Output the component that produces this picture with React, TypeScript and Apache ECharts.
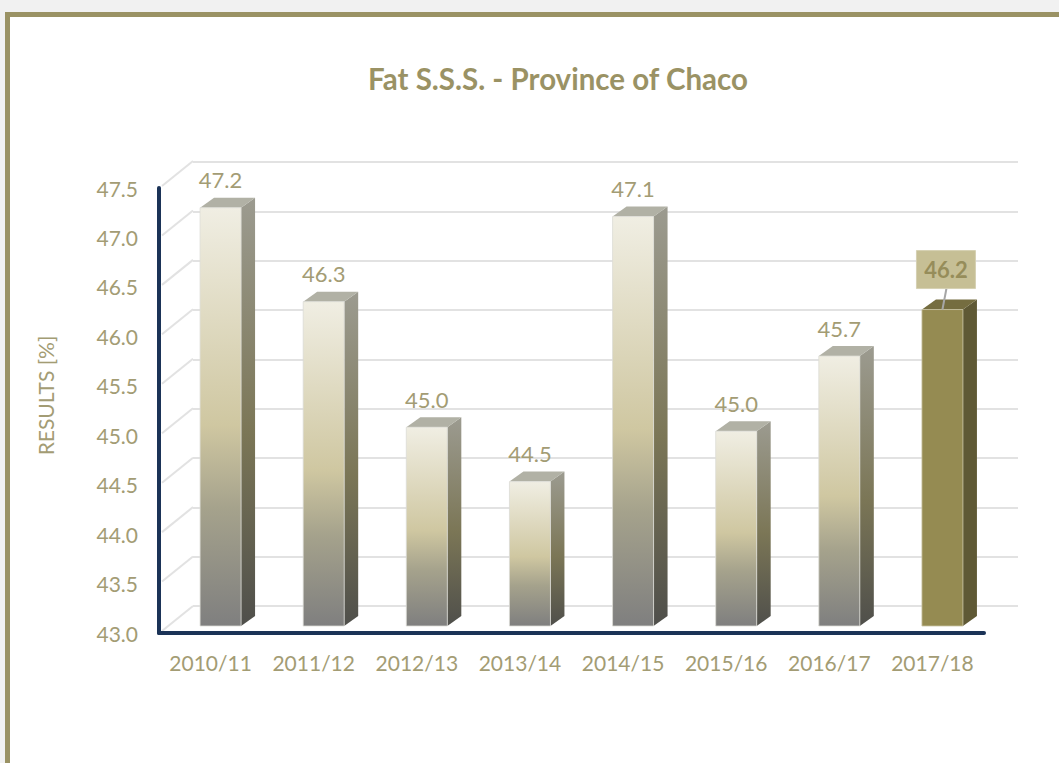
import React, { useEffect, useRef } from "react";
import * as echarts from "echarts";

const categories = ["2010/11", "2011/12", "2012/13", "2013/14", "2014/15", "2015/16", "2016/17", "2017/18"];
const values = [47.23, 46.28, 45.01, 44.46, 47.14, 44.97, 45.73, 46.2];
const tickValues = [43, 43.5, 44, 44.5, 45, 45.5, 46, 46.5, 47, 47.5];
const highlighted = "2017/18";
const titleText = "Fat S.S.S. - Province of Chaco";
const yName = "RESULTS [%]";

const OLIVE = "#9a9264";
const TEXT = "#a39c74";
const NAVY = "#1b3357";
const GRID = "#e2e2e2";
const FONT = "Lato, Carlito, sans-serif";

const grad = (stops: [number, string][]) =>
  new echarts.graphic.LinearGradient(0, 0, 0, 1, stops.map(([offset, color]) => ({ offset, color })));

export default function App() {
  const ref = useRef<HTMLDivElement>(null);
  useEffect(() => {
    const chart = echarts.init(ref.current!, undefined, { renderer: "svg" });
    const barW = 41;
    const depthX = 14;
    const depthY = 10;
    chart.setOption({
      animation: false,
      backgroundColor: "#f1f1f1",
      graphic: {
        elements: [
          { type: "rect", z: -10, shape: { x: 5, y: 12, width: 1054, height: 751 }, style: { fill: OLIVE } },
          { type: "rect", z: -9, shape: { x: 10, y: 17, width: 1049, height: 746 }, style: { fill: "#ffffff" } },
        ],
      },
      title: {
        text: titleText,
        left: 553,
        top: 58,
        textAlign: "center",
        textStyle: { color: OLIVE, fontFamily: FONT, fontWeight: "bold", fontSize: 29.5 },
      },
      grid: [
        { left: 159, right: 75, top: 188, bottom: 130 },
        { left: 193, right: 41, top: 162, bottom: 157 },
      ],
      xAxis: [
        {
          type: "category",
          gridIndex: 0,
          data: categories,
          axisLine: { lineStyle: { color: NAVY, width: 4 } },
          axisTick: { show: false },
          axisLabel: { color: TEXT, fontFamily: FONT, fontSize: 21, margin: 19, interval: 0 },
          z: 5,
        },
        { type: "category", gridIndex: 1, data: categories, show: false },
      ],
      yAxis: [
        {
          type: "value",
          gridIndex: 0,
          min: 43,
          max: 47.5,
          interval: 0.5,
          name: yName,
          nameLocation: "middle",
          nameGap: 103,
          nameTextStyle: { color: TEXT, fontFamily: FONT, fontSize: 21, padding: [0, 0, 0, 30] },
          axisLine: { show: true, lineStyle: { color: NAVY, width: 4 } },
          axisTick: { show: false },
          splitLine: { show: false },
          axisLabel: { color: TEXT, fontFamily: FONT, fontSize: 21, margin: 21, formatter: (v: number) => v.toFixed(1) },
          z: 5,
        },
        {
          type: "value",
          gridIndex: 1,
          min: 43,
          max: 47.5,
          interval: 0.5,
          axisLine: { show: false },
          axisTick: { show: false },
          axisLabel: { show: false },
          splitLine: { show: true, lineStyle: { color: GRID, width: 2 } },
        },
      ],
      series: [
        {
          type: "custom",
          xAxisIndex: 0,
          yAxisIndex: 0,
          data: tickValues.map((v) => [categories[0], v]),
          silent: true,
          clip: false,
          z: 1,
          renderItem: (params: any, api: any) => {
            const y = api.coord([categories[0], api.value(1)])[1];
            const x0 = params.coordSys.x;
            return {
              type: "line",
              shape: { x1: x0 + 3, y1: y - 2, x2: x0 + 34, y2: y - 27 },
              style: { stroke: GRID, lineWidth: 2 },
            };
          },
        },
        {
          type: "custom",
          xAxisIndex: 0,
          yAxisIndex: 0,
          data: values.map((v, i) => [categories[i], v]),
          clip: false,
          silent: true,
          z: 2,
          renderItem: (_: any, api: any) => {
            const i = api.value(0);
            const cat = categories[i];
            const v = api.value(1);
            const base = api.coord([cat, 43]);
            const top = api.coord([cat, v]);
            const x = base[0] + 10 - barW / 2;
            const y0 = base[1] - 7;
            const y1 = top[1] - 7;
            const isHi = cat === highlighted;
            const label = v.toFixed(1);
            const front = isHi
              ? "#958b52"
              : grad([
                  [0, "#f0eee3"],
                  [0.52, "#cfc7a1"],
                  [0.72, "#a5a28c"],
                  [1, "#7f7f7f"],
                ]);
            const side = isHi
              ? "#5f5935"
              : grad([
                  [0, "#9c9b90"],
                  [0.55, "#7b7656"],
                  [1, "#4f4f4b"],
                ]);
            const children: any[] = [
              {
                type: "polygon",
                shape: { points: [[x + barW, y1], [x + barW + depthX, y1 - depthY], [x + barW + depthX, y0 - depthY], [x + barW, y0]] },
                style: { fill: side },
              },
              {
                type: "polygon",
                shape: { points: [[x, y1], [x + depthX, y1 - depthY], [x + barW + depthX, y1 - depthY], [x + barW, y1]] },
                style: { fill: isHi ? "#756d40" : "#b1b1a5" },
              },
              {
                type: "rect",
                shape: { x, y: y1, width: barW, height: y0 - y1 },
                style: { fill: front, stroke: isHi ? "#c9c4a4" : "#dcdcd6", lineWidth: 0.8 },
              },
            ];
            if (isHi) {
              const cx = x + barW / 2;
              children.push(
                { type: "line", shape: { x1: cx, y1: y1, x2: cx + 4, y2: y1 - 21 }, style: { stroke: "#a6a6a6", lineWidth: 2 } },
                { type: "rect", shape: { x: cx - 26, y: y1 - 59, width: 59, height: 38 }, style: { fill: "#c6bf95", stroke: "#d5d0b2", lineWidth: 1 } },
                { type: "text", style: { text: label, x: cx + 3.5, y: y1 - 40, fill: "#968d5a", font: `bold 22px ${FONT}`, align: "center", verticalAlign: "middle" } }
              );
            } else {
              children.push({
                type: "text",
                style: { text: label, x: x + barW / 2, y: y1 - 28, fill: TEXT, font: `22px ${FONT}`, align: "center", verticalAlign: "middle" },
              });
            }
            return { type: "group", children };
          },
        },
      ],
    });
    return () => chart.dispose();
  }, []);
  return <div ref={ref} style={{ position: "fixed", left: 0, top: 0, width: 1059, height: 763 }} />;
}
